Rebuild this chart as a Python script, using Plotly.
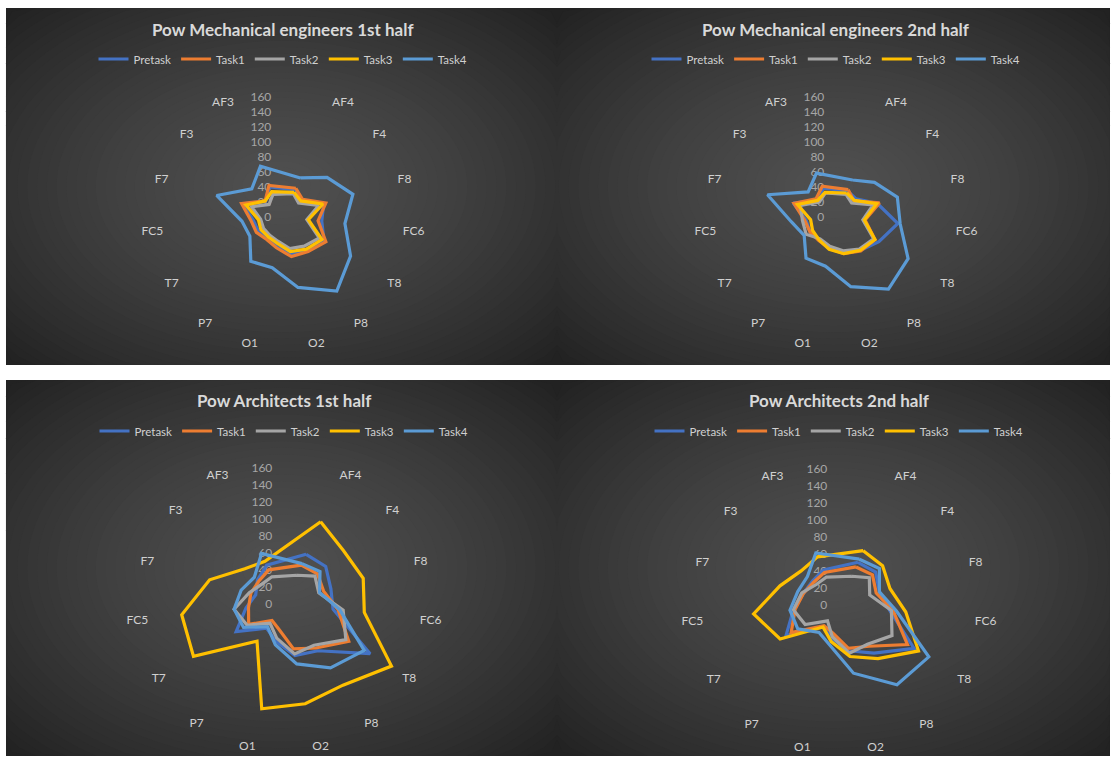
import math
import plotly.graph_objects as go

W, H = 1113, 758

channels = ["AF3", "AF4", "F4", "F8", "FC6", "T8", "P8", "O2", "O1", "P7", "T7", "FC5", "F7", "F3"]
# angular positions (15 slots, the top slot is an empty category)
slot_deg = [336, 24, 48, 72, 96, 120, 144, 168, 192, 216, 240, 264, 288, 312]
series_names = ["Pretask", "Task1", "Task2", "Task3", "Task4"]
series_colors = ["#4472C4", "#ED7D31", "#A5A5A5", "#FFC000", "#5B9BD5"]
radial_ticks = [0, 20, 40, 60, 80, 100, 120, 140, 160]

# ---- Pow Mechanical engineers 1st half
me1_pretask = [44, 40, 33, 57, 52, 63, 55, 50, 40, 35, 38, 40, 57, 31]
me1_task1 = [46, 42, 35, 60, 47, 66, 57, 54, 42, 37, 41, 43, 58, 32]
me1_task2 = [33, 34, 28, 50, 32, 56, 48, 43, 33, 30, 30, 30, 44, 25]
me1_task3 = [37, 36, 32, 56, 34, 60, 53, 47, 36, 33, 34, 33, 52, 32]
me1_task4 = [74, 57, 79, 98, 83, 104, 122, 96, 69, 73, 51, 55, 93, 56]

# ---- Pow Mechanical engineers 2nd half
me2_pretask = [42, 38, 36, 58, 83, 66, 55, 48, 42, 38, 40, 40, 60, 33]
me2_task1 = [45, 40, 32, 61, 39, 60, 56, 50, 43, 39, 40, 42, 59, 36]
me2_task2 = [35, 33, 28, 52, 36, 58, 53, 46, 40, 36, 46, 45, 50, 30]
me2_task3 = [36, 35, 33, 57, 38, 60, 55, 50, 44, 38, 36, 34, 54, 33]
me2_task4 = [64, 54, 69, 86, 86, 111, 119, 95, 67, 68, 49, 60, 96, 50]

# ---- Pow Architects 1st half
ar1_pretask = [50, 64, 66, 58, 58, 117, 68, 62, 45, 35, 65, 45, 35, 42]
ar1_task1 = [44, 50, 53, 49, 64, 88, 64, 54, 30, 24, 48, 42, 41, 40]
ar1_task2 = [35, 37, 49, 43, 70, 84, 60, 60, 41, 28, 50, 59, 43, 35]
ar1_task3 = [55, 106, 94, 98, 95, 146, 118, 120, 126, 54, 123, 121, 92, 62]
ar1_task4 = [65, 52, 57, 44, 66, 109, 93, 72, 49, 33, 55, 59, 53, 47]

# ---- Pow Architects 2nd half
ar2_pretask = [45, 55, 58, 50, 60, 102, 70, 55, 40, 32, 72, 54, 44, 42]
ar2_task1 = [42, 49, 53, 46, 64, 93, 60, 52, 34, 30, 65, 52, 44, 40]
ar2_task2 = [36, 37, 48, 38, 62, 72, 57, 58, 38, 23, 46, 54, 46, 36]
ar2_task3 = [62, 70, 69, 63, 79, 108, 78, 62, 44, 32, 80, 101, 73, 60]
ar2_task4 = [67, 59, 64, 50, 68, 122, 116, 82, 49, 40, 56, 58, 51, 50]

panels = [
    dict(title="Pow Mechanical engineers 1st half",
         data=[me1_pretask, me1_task1, me1_task2, me1_task3, me1_task4],
         rect=(6, 8, 557, 365), center=(283, 217), radius=120, title_y=29, legend_y=59),
    dict(title="Pow Mechanical engineers 2nd half",
         data=[me2_pretask, me2_task1, me2_task2, me2_task3, me2_task4],
         rect=(557, 8, 1110, 365), center=(836, 217), radius=120, title_y=29, legend_y=59),
    dict(title="Pow Architects 1st half",
         data=[ar1_pretask, ar1_task1, ar1_task2, ar1_task3, ar1_task4],
         rect=(6, 380, 557, 756), center=(284, 604), radius=136, title_y=400, legend_y=431),
    dict(title="Pow Architects 2nd half",
         data=[ar2_pretask, ar2_task1, ar2_task2, ar2_task3, ar2_task4],
         rect=(557, 380, 1110, 756), center=(839, 605), radius=136, title_y=400, legend_y=431),
]


def px(x):
    return x / W


def py(y):
    return 1 - y / H


fig = go.Figure()
shapes = []
annotations = []
layout_extra = {}

# radial gradient backgrounds of the four chart areas
EDGE, MID = 34, 80
for p in panels:
    x0, y0, x1, y1 = p["rect"]
    cx, cy = (x0 + x1) / 2, (y0 + y1) / 2
    hw, hh = (x1 - x0) / 2, (y1 - y0) / 2
    shapes.append(dict(type="rect", xref="paper", yref="paper", x0=px(x0), x1=px(x1),
                       y0=py(y1), y1=py(y0), fillcolor="rgb(%d,%d,%d)" % (EDGE, EDGE, EDGE),
                       line=dict(width=0), layer="below"))
    N = 40
    rmax = 1.42
    for k in range(N):
        rho = rmax * (1 - k / N)
        t = min(rho / rmax, 1.0)
        c = int(round(MID + (EDGE - MID) * t ** 1.3))
        pts = []
        for j in range(96):
            a = 2 * math.pi * j / 96
            X = cx + rho * hw * math.cos(a)
            Y = cy + rho * hh * math.sin(a)
            X = min(max(X, x0), x1)
            Y = min(max(Y, y0), y1)
            pts.append("%.5f %.5f" % (px(X), py(Y)))
        path = "M " + " L ".join(pts) + " Z"
        shapes.append(dict(type="path", xref="paper", yref="paper", path=path,
                           fillcolor="rgb(%d,%d,%d)" % (c, c, c), line=dict(width=0), layer="below"))

for i, p in enumerate(panels):
    pid = "polar" if i == 0 else "polar%d" % (i + 1)
    lid = "legend" if i == 0 else "legend%d" % (i + 1)
    for name, color, vals in zip(series_names, series_colors, p["data"]):
        r = list(vals[1:]) + list(vals[:1]) + [vals[1]]
        th = list(slot_deg[1:]) + list(slot_deg[:1]) + [slot_deg[1]]
        fig.add_trace(go.Scatterpolar(r=r, theta=th, mode="lines", name=name,
                                      line=dict(color=color, width=3.2), subplot=pid,
                                      legend=lid, hoverinfo="skip"))
    cx, cy = p["center"]
    R = p["radius"]
    layout_extra[pid] = dict(
        domain=dict(x=[px(cx - R), px(cx + R)], y=[py(cy + R), py(cy - R)]),
        bgcolor="rgba(0,0,0,0)",
        radialaxis=dict(range=[0, 160], tickvals=radial_ticks, showgrid=False, showline=False,
                        ticks="outside", ticklen=7, tickcolor="rgba(0,0,0,0)", angle=90,
                        side="counterclockwise", layer="below traces", tickangle=90,
                        tickfont=dict(family="Lato", size=12, color="#a6a6a6")),
        angularaxis=dict(rotation=90, direction="clockwise", tickmode="array",
                         tickvals=slot_deg, ticktext=channels, showgrid=False, showline=False,
                         ticks="", tickfont=dict(family="Lato", size=12, color="#d0d0d0")),
    )
    layout_extra[lid] = dict(orientation="h", x=px(cx), y=py(p["legend_y"]), xanchor="center",
                             yanchor="middle", bgcolor="rgba(0,0,0,0)",
                             font=dict(family="Lato", size=11.5, color="#d0d0d0"),
                             itemwidth=30, tracegroupgap=0)
    annotations.append(dict(text="<b>%s</b>" % p["title"], x=px(cx), y=py(p["title_y"]),
                            xref="paper", yref="paper", showarrow=False, xanchor="center",
                            yanchor="middle", font=dict(family="Lato", size=17, color="#d9d9d9")))

fig.update_layout(width=W, height=H, margin=dict(l=0, r=0, t=0, b=0),
                  paper_bgcolor="white", plot_bgcolor="white", showlegend=True,
                  shapes=shapes, annotations=annotations, **layout_extra)
fig.write_html("out.html")
